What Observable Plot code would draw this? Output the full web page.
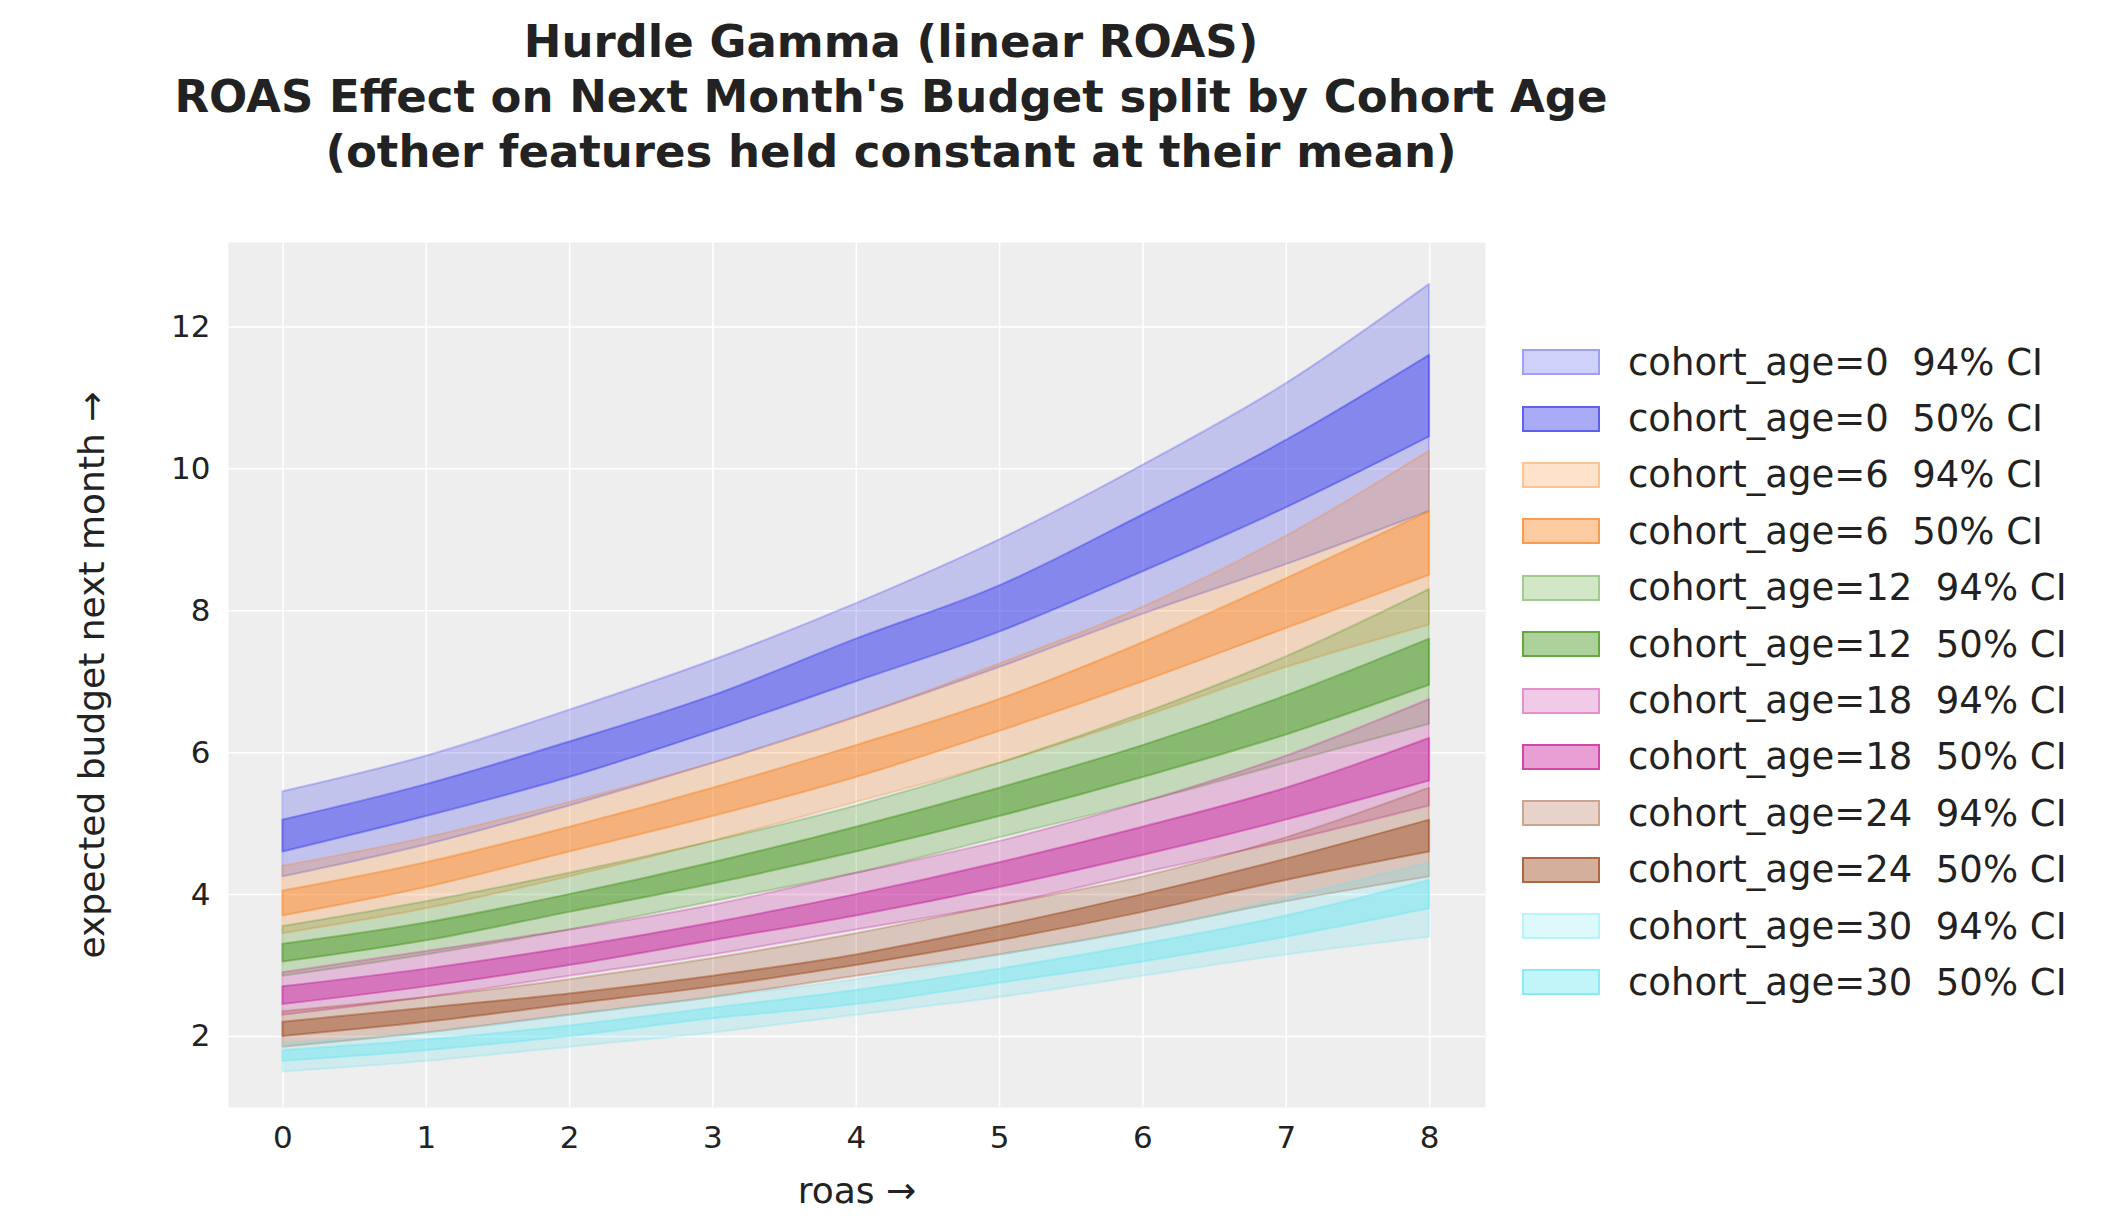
<!DOCTYPE html>
<html><head><meta charset="utf-8">
<script src="https://cdn.jsdelivr.net/npm/d3@7"></script>
<script src="https://cdn.jsdelivr.net/npm/@observablehq/plot@0.6"></script>
<style>
body{margin:0;background:#fff;font-family:"DejaVu Sans",sans-serif;color:#222;}
#title{position:absolute;left:0;width:1782px;top:14px;text-align:center;font-weight:bold;font-size:45px;line-height:55px;}
#chart{position:absolute;left:0;top:0;}
#legend{position:absolute;left:1522px;top:334px;font-size:37px;}
.row{height:56.4px;display:flex;align-items:center;}
.sw{width:78px;height:26px;margin-right:28px;box-sizing:border-box;border:2px solid;}
</style></head><body>
<div id="title">Hurdle Gamma (linear ROAS)<br>ROAS Effect on Next Month's Budget split by Cohort Age<br>(other features held constant at their mean)</div>
<div id="chart"></div>
<div id="legend"></div>
<script>
const roas = [0,1,2,3,4,5,6,7,8];
const cohorts = [0,6,12,18,24,30];
const colors = ["#2a2eec","#fa7c17","#328c06","#c10c90","#933708","#65e5f3"];
const hi94 = {
 0:[5.45,5.95,6.6,7.3,8.1,9.0,10.05,11.2,12.6],
 6:[4.4,4.8,5.3,5.85,6.5,7.25,8.05,9.05,10.25],
 12:[3.55,3.9,4.3,4.75,5.25,5.85,6.55,7.35,8.3],
 18:[2.9,3.2,3.5,3.85,4.3,4.75,5.3,5.95,6.75],
 24:[2.35,2.55,2.8,3.1,3.45,3.85,4.25,4.8,5.5],
 30:[1.9,2.05,2.3,2.55,2.8,3.15,3.5,3.95,4.45]};
const lo94 = {
 0:[4.25,4.7,5.25,5.85,6.5,7.2,7.95,8.65,9.4],
 6:[3.45,3.8,4.25,4.75,5.3,5.85,6.5,7.2,7.8],
 12:[2.85,3.15,3.5,3.9,4.3,4.8,5.3,5.85,6.4],
 18:[2.3,2.55,2.85,3.15,3.5,3.85,4.3,4.75,5.25],
 24:[1.85,2.05,2.3,2.55,2.85,3.15,3.5,3.9,4.25],
 30:[1.5,1.65,1.85,2.05,2.3,2.55,2.85,3.15,3.4]};
const hi50 = {
 0:[5.05,5.55,6.15,6.8,7.6,8.35,9.35,10.4,11.6],
 6:[4.05,4.45,4.95,5.5,6.1,6.75,7.55,8.45,9.4],
 12:[3.3,3.6,4.0,4.45,4.95,5.5,6.1,6.8,7.6],
 18:[2.7,2.95,3.25,3.6,4.0,4.45,4.95,5.5,6.2],
 24:[2.2,2.4,2.6,2.85,3.15,3.55,4.0,4.5,5.05],
 30:[1.8,1.95,2.15,2.4,2.65,2.95,3.3,3.7,4.2]};
const lo50 = {
 0:[4.6,5.1,5.65,6.3,7.0,7.7,8.55,9.45,10.45],
 6:[3.7,4.1,4.6,5.1,5.65,6.3,7.0,7.75,8.5],
 12:[3.05,3.35,3.75,4.15,4.6,5.1,5.65,6.25,6.95],
 18:[2.45,2.7,3.0,3.35,3.7,4.1,4.55,5.05,5.6],
 24:[2.0,2.2,2.45,2.7,3.0,3.35,3.75,4.2,4.6],
 30:[1.65,1.8,2.0,2.25,2.45,2.75,3.05,3.4,3.8]};

const marks = [Plot.gridX(roas,{stroke:"#fff",strokeOpacity:1,strokeWidth:1.5}),
  Plot.gridY([2,4,6,8,10,12],{stroke:"#fff",strokeOpacity:1,strokeWidth:1.5})];
cohorts.forEach((c,i)=>{
  const d = roas.map((x,j)=>({x,lo94:lo94[c][j],hi94:hi94[c][j],lo50:lo50[c][j],hi50:hi50[c][j]}));
  marks.push(Plot.areaY(d,{x:"x",y1:"lo94",y2:"hi94",fill:colors[i],fillOpacity:0.22,stroke:colors[i],strokeOpacity:0.25,strokeWidth:2,curve:"monotone-x"}));
  marks.push(Plot.areaY(d,{x:"x",y1:"lo50",y2:"hi50",fill:colors[i],fillOpacity:0.4,stroke:colors[i],strokeOpacity:0.4,strokeWidth:2,curve:"monotone-x"}));
});
const plot = Plot.plot({
  width:1520,height:1223,marginTop:242,marginBottom:116,marginLeft:228,marginRight:35,
  style:{fontFamily:"DejaVu Sans",fontSize:"31px",color:"#222",background:"transparent"},
  x:{domain:[-0.38,8.39],ticks:roas,tickSize:0,tickPadding:18,label:"roas",labelAnchor:"center",labelOffset:95,tickFormat:d3.format("d")},
  y:{domain:[1.0,13.19],ticks:[2,4,6,8,10,12],tickSize:0,tickPadding:18,label:"expected budget next month",labelAnchor:"center",labelOffset:150,tickFormat:d3.format("d")},
  marks:[Plot.frame({fill:"#eeeeee",stroke:null}),...marks]
});
plot.querySelectorAll('g[aria-label="x-axis label"] text, g[aria-label="y-axis label"] text').forEach(t=>t.style.fontSize="36px");
document.getElementById("chart").appendChild(plot);
const lg=document.getElementById("legend");
cohorts.forEach((c,i)=>{
  [["94",0.22,0.3],["50",0.4,0.6]].forEach(([p,fo,so])=>{
    const r=document.createElement("div");r.className="row";
    const col=d3.color(colors[i]);
    r.innerHTML=`<div class="sw" style="background:rgba(${col.r},${col.g},${col.b},${fo});border-color:rgba(${col.r},${col.g},${col.b},${so})"></div><span>cohort_age=${c}&nbsp; ${p}% CI</span>`;
    lg.appendChild(r);
  });
});
</script></body></html>
